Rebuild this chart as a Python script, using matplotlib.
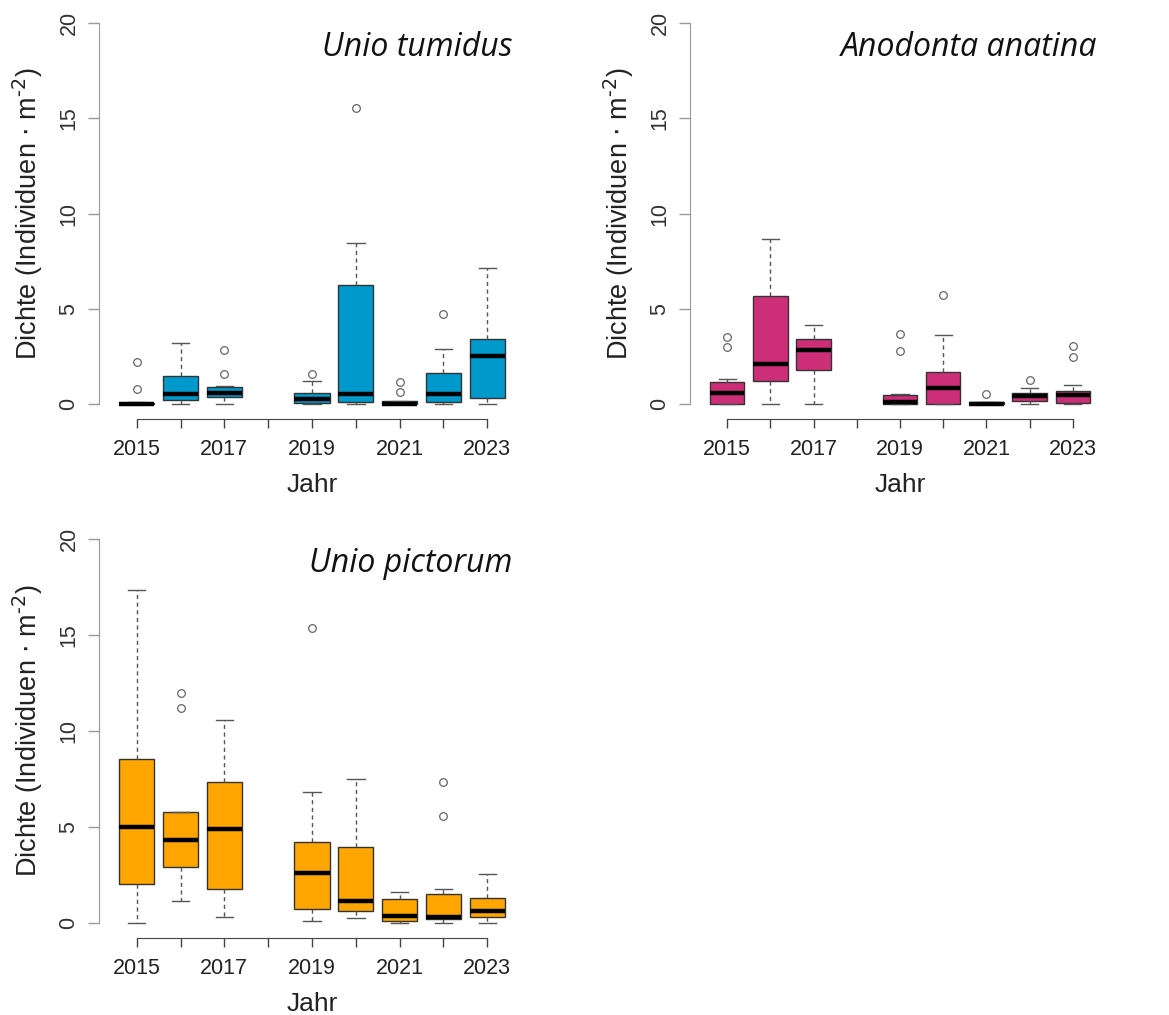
import matplotlib
matplotlib.use("Agg")
import matplotlib.pyplot as plt

plt.rcParams["font.family"] = ["Liberation Sans", "DejaVu Sans"]

#-------------------------------Daten-------------------------------#
jahre = [2015, 2016, 2017, 2019, 2020, 2021, 2022, 2023]

# Unio tumidus
ut_q1 = [0.0, 0.18, 0.35, 0.05, 0.09, 0.0, 0.09, 0.28]
ut_med = [0.0, 0.53, 0.58, 0.23, 0.49, 0.0, 0.49, 2.51]
ut_q3 = [0.05, 1.46, 0.88, 0.58, 6.24, 0.12, 1.60, 3.39]
ut_lo = [0.0, 0.0, 0.0, 0.0, 0.0, 0.0, 0.0, 0.0]
ut_hi = [0.10, 3.18, 0.93, 1.20, 8.44, 0.15, 2.86, 7.12]
ut_out = [[0.76, 2.2], [], [1.58, 2.81], [1.58], [15.55], [0.6, 1.14], [4.71], []]

# Anodonta anatina
aa_q1 = [0.0, 1.20, 1.78, 0.0, 0.0, 0.0, 0.14, 0.05]
aa_med = [0.58, 2.11, 2.83, 0.09, 0.81, 0.0, 0.40, 0.44]
aa_q3 = [1.14, 5.64, 3.39, 0.46, 1.69, 0.08, 0.58, 0.67]
aa_lo = [0.0, 0.0, 0.0, 0.0, 0.0, 0.0, 0.0, 0.0]
aa_hi = [1.32, 8.66, 4.15, 0.49, 3.62, 0.10, 0.84, 0.97]
aa_out = [[3.0, 3.51], [], [], [2.78, 3.66], [5.73], [0.49], [1.25], [2.48, 3.04]]

# Unio pictorum
up_q1 = [2.0, 2.90, 1.74, 0.73, 0.61, 0.07, 0.21, 0.31]
up_med = [5.0, 4.29, 4.90, 2.60, 1.13, 0.35, 0.31, 0.61]
up_q3 = [8.54, 5.76, 7.34, 4.20, 3.96, 1.25, 1.48, 1.27]
up_lo = [0.0, 1.13, 0.31, 0.09, 0.23, 0.0, 0.0, 0.0]
up_hi = [17.36, 5.76, 10.56, 6.80, 7.50, 1.61, 1.77, 2.52]
up_out = [[], [11.2, 12.0], [], [15.4], [], [], [5.56, 7.33], []]

arten = ["Unio tumidus", "Anodonta anatina", "Unio pictorum"]
farben = ["#0099CC", "#CC2F78", "#FFA500"]
daten = [
    (ut_q1, ut_med, ut_q3, ut_lo, ut_hi, ut_out),
    (aa_q1, aa_med, aa_q3, aa_lo, aa_hi, aa_out),
    (up_q1, up_med, up_q3, up_lo, up_hi, up_out),
]

x_ticks = list(range(2015, 2024))
x_labels = ["2015", "", "2017", "", "2019", "", "2021", "", "2023"]

#-------------------------------Plot--------------------------------#
W, H = 1169, 1015
fig = plt.figure(figsize=(W / 100, H / 100), dpi=100, facecolor="white")

# pixel boxes: left, right, top, bottom
boxes_px = [(99, 525, 8, 419), (690, 1110, 8, 419), (99, 525, 524, 938)]

for (l, r, t, b), name, col, d in zip(boxes_px, arten, farben, daten):
    ax = fig.add_axes([l / W, 1 - b / H, (r - l) / W, (b - t) / H])
    q1, med, q3, lo, hi, out = d
    stats = []
    for i in range(len(jahre)):
        stats.append({"q1": q1[i], "med": med[i], "q3": q3[i],
                      "whislo": lo[i], "whishi": hi[i], "fliers": out[i]})
    ax.bxp(stats, positions=jahre, widths=0.8, capwidths=0.4,
           patch_artist=True, manage_ticks=False,
           boxprops=dict(facecolor=col, edgecolor="#333333", linewidth=1.0),
           medianprops=dict(color="black", linewidth=3.2, solid_capstyle="butt"),
           whiskerprops=dict(color="#555555", linewidth=1.0, linestyle=(0, (3, 2.5))),
           capprops=dict(color="#555555", linewidth=1.0),
           flierprops=dict(marker="o", markersize=5.5, markerfacecolor="none",
                           markeredgecolor="#666666", markeredgewidth=0.9))

    ax.set_xlim(2014.14, 2023.86)
    ax.set_ylim(-0.8, 20.8)
    for s in ["top", "right"]:
        ax.spines[s].set_visible(False)
    ax.spines["left"].set_bounds(0, 20)
    ax.spines["bottom"].set_bounds(2015, 2023)
    ax.spines["left"].set_color("#999999")
    ax.spines["bottom"].set_color("#444444")

    ax.set_yticks([0, 5, 10, 15, 20])
    ax.set_yticklabels(["0", "5", "10", "15", "20"], rotation=90, va="center")
    ax.set_xticks(x_ticks)
    ax.set_xticklabels(x_labels)
    ax.tick_params(axis="y", length=8, width=1, color="#999999", pad=6,
                   labelsize=15.5, labelcolor="#333333")
    ax.tick_params(axis="x", length=6.5, width=1, color="#444444", pad=8,
                   labelsize=15.5, labelcolor="#222222")

    ax.set_xlabel("Jahr", fontsize=19, color="#222222", labelpad=9)
    ax.set_ylabel(r"Dichte (Individuen $\cdot$ m$^{\text{-}2}$)", fontsize=19.5,
                  color="#222222", labelpad=10)

    ax.text(0.97, 0.945, name, transform=ax.transAxes, ha="right", va="top",
            fontsize=23, style="italic", family=["Open Sans", "DejaVu Sans"],
            color="#111111")

fig.savefig("out.png", dpi=100, facecolor="white")
